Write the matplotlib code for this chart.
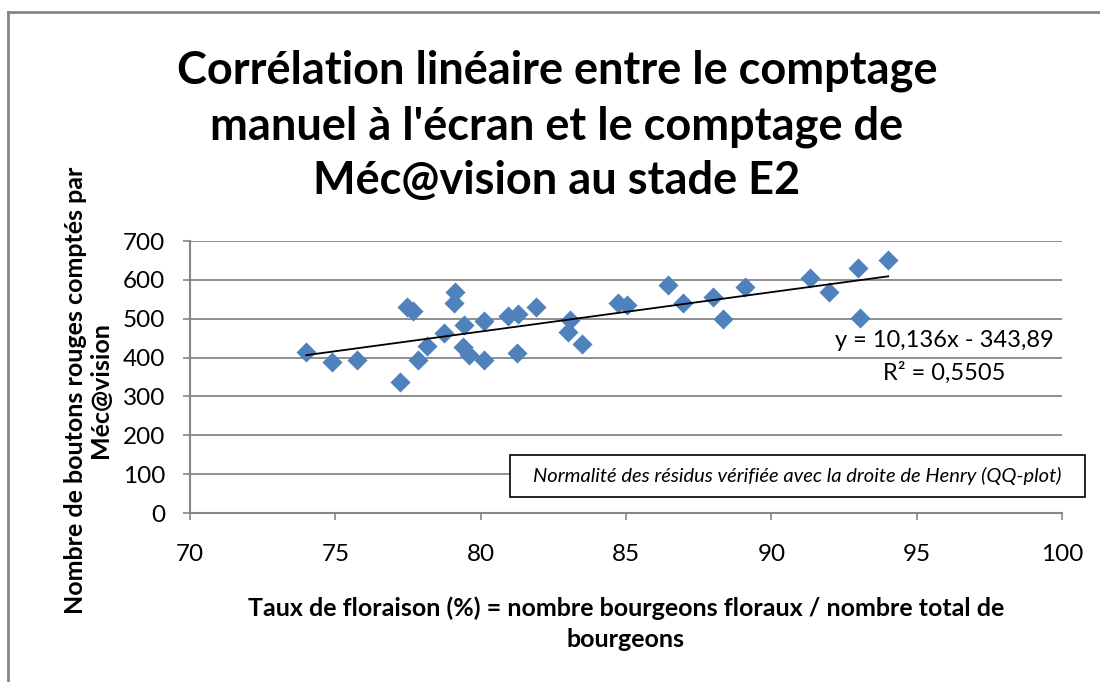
import numpy as np
import matplotlib
matplotlib.use("Agg")
from matplotlib import pyplot as plt, lines, patches

# taux de floraison (%) et comptage Méc@vision
taux = [74.0, 74.87, 75.73, 77.22, 77.45, 77.68, 77.85, 78.17, 78.75, 79.13,
        79.08, 79.43, 79.40, 79.61, 80.11, 80.11, 80.95, 81.29, 81.24, 81.9,
        83.07, 83.01, 83.47, 84.73, 85.02, 86.45, 86.97, 88.0, 88.35, 89.09,
        91.33, 91.99, 92.97, 93.05, 94.02]
comptage = [415, 389, 395, 338, 531, 521, 395, 430, 462, 569,
            541, 485, 428, 407, 395, 495, 507, 511, 411, 531,
            497, 467, 435, 540, 535, 587, 540, 555, 498, 581,
            606, 570, 630, 501, 651]
pente, origine = 10.136, -343.89
r2 = 0.5505

x_ticks = [70, 75, 80, 85, 90, 95, 100]
y_ticks = [0, 100, 200, 300, 400, 500, 600, 700]

plt.rcParams['font.family'] = ['Lato', 'DejaVu Sans']

fig = plt.figure(figsize=(11, 6.82), dpi=100)
W, H = 1100, 682
ax = fig.add_axes([190 / W, 1 - 513 / H, (1062 - 190) / W, (513 - 241) / H])

ax.scatter(taux, comptage, marker='D', s=105, color='#4F81BD', zorder=3, linewidths=0)
xs = np.array([min(taux), max(taux)])
ax.plot(xs, pente * xs + origine, color='black', linewidth=1.3, zorder=4)

ax.set_xlim(70, 100)
ax.set_ylim(0, 700)
ax.set_xticks(x_ticks)
ax.set_yticks(y_ticks)
ax.tick_params(labelsize=17.5, color='#868686', length=5, width=1.2)
ax.tick_params(axis='x', pad=17)
ax.tick_params(axis='y', pad=13)
for s in ['top', 'right']:
    ax.spines[s].set_visible(False)
for s in ['left', 'bottom']:
    ax.spines[s].set_color('#868686')
    ax.spines[s].set_linewidth(1.5)
ax.yaxis.grid(True, color='#868686', linewidth=1.3)
ax.set_axisbelow(True)

ax.text(0.99, 0.575, f"y = {str(pente).replace('.', ',')}x - {str(-origine).replace('.', ',')}\nR² = {str(r2).replace('.', ',')}",
        transform=ax.transAxes, ha='right', va='center', multialignment='center',
        fontsize=17, linespacing=1.6)

# encadré
fig.add_artist(patches.Rectangle((510 / W, 1 - 497 / H), (1085 - 510) / W, 42 / H,
                                 transform=fig.transFigure, facecolor='white',
                                 edgecolor='black', linewidth=1.2, zorder=5))
fig.text(797 / W, 1 - 476 / H, "Normalité des résidus vérifiée avec la droite de Henry (QQ-plot)",
         ha='center', va='center', fontsize=14.5, style='italic', zorder=6)

fig.text(557 / W, 1 - 126 / H,
         "Corrélation linéaire entre le comptage\nmanuel à l'écran et le comptage de\nMéc@vision au stade E2",
         ha='center', va='center', fontsize=32.5, fontweight='bold', linespacing=1.38)

fig.text(88 / W, 1 - 390 / H, "Nombre de boutons rouges comptés par\nMéc@vision",
         ha='center', va='center', rotation=90, fontsize=18, fontweight='bold', linespacing=1.15)
fig.text(626 / W, 1 - 624 / H,
         "Taux de floraison (%) = nombre bourgeons floraux / nombre total de\nbourgeons",
         ha='center', va='center', fontsize=18, fontweight='bold', linespacing=1.4)

# bordure du graphique (haut et gauche visibles)
fig.add_artist(lines.Line2D([8 / W, 8 / W], [0, 1 - 12 / H], color='#868686', linewidth=2))
fig.add_artist(lines.Line2D([8 / W, 1], [1 - 12 / H, 1 - 12 / H], color='#868686', linewidth=2))

fig.savefig('out.png', dpi=100, facecolor='white')
plt.close(fig)
